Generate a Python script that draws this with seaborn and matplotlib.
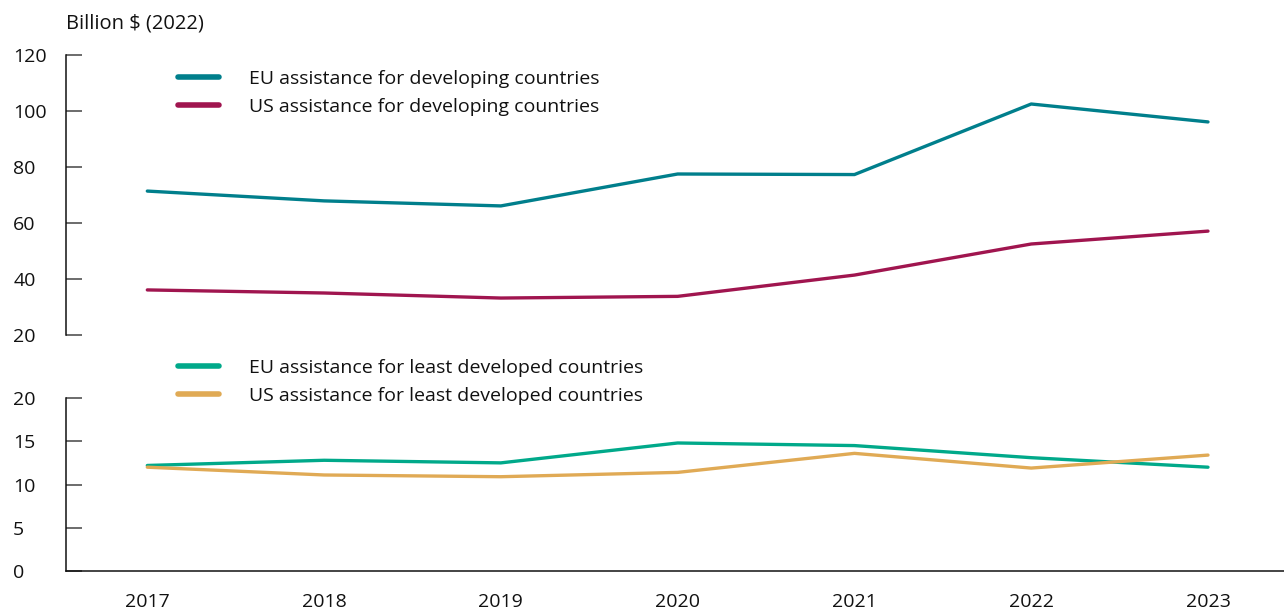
import matplotlib
matplotlib.use("Agg")
import matplotlib.pyplot as plt
import seaborn as sns
import pandas as pd

years = [2017, 2018, 2019, 2020, 2021, 2022, 2023]
eu_dev = [71.4, 67.9, 66.1, 77.5, 77.3, 102.5, 96.1]
us_dev = [36.1, 35.0, 33.2, 33.8, 41.4, 52.5, 57.1]
eu_ldc = [12.2, 12.8, 12.5, 14.8, 14.5, 13.1, 12.0]
us_ldc = [12.0, 11.1, 10.9, 11.4, 13.6, 11.9, 13.4]

lab_eu_dev = "EU assistance for developing countries"
lab_us_dev = "US assistance for developing countries"
lab_eu_ldc = "EU assistance for least developed countries"
lab_us_ldc = "US assistance for least developed countries"
y_unit = "Billion $ (2022)"

colors = {lab_eu_dev: "#007F8C", lab_us_dev: "#A0154F",
          lab_eu_ldc: "#00A98A", lab_us_ldc: "#E0AA55"}

top_df = pd.DataFrame({"year": years * 2, "value": eu_dev + us_dev,
                       "series": [lab_eu_dev] * 7 + [lab_us_dev] * 7})
bot_df = pd.DataFrame({"year": years * 2, "value": eu_ldc + us_ldc,
                       "series": [lab_eu_ldc] * 7 + [lab_us_ldc] * 7})

sns.set_theme(style="white")
plt.rcParams["font.family"] = ["Open Sans", "DejaVu Sans"]

fig = plt.figure(figsize=(12.84, 6.09), dpi=100)
L = 66 / 1284
ax1 = fig.add_axes([L, 1 - 335 / 609, 1 - L, (335 - 55) / 609])
ax2 = fig.add_axes([L, 1 - 571 / 609, 1 - L, (571 - 398) / 609])

for ax, df in ((ax1, top_df), (ax2, bot_df)):
    sns.lineplot(data=df, x="year", y="value", hue="series", palette=colors,
                 ax=ax, linewidth=2.4, legend=True)
    ax.set_xlim(2016.54, 2023.43)
    ax.set_xlabel("")
    ax.set_ylabel("")
    for s in ("top", "right"):
        ax.spines[s].set_visible(False)
    ax.spines["left"].set_color("#111111")
    ax.spines["left"].set_linewidth(1.1)
    ax.tick_params(axis="y", left=True, direction="in", length=11.5, width=1.1,
                   color="#444444", labelsize=14, pad=38, labelcolor="#111111")
    for ln in ax.get_lines():
        ln.set_solid_capstyle("round")
    leg = ax.legend(loc="upper left", frameon=False, fontsize=14,
                    handlelength=2.1, handletextpad=1.55, labelspacing=0.52,
                    borderaxespad=0, borderpad=0)
    for h in leg.legend_handles:
        h.set_linewidth(4)
        h.set_solid_capstyle("round")
    for t in leg.get_texts():
        t.set_color("#111111")

ax1.set_ylim(20, 120)
ax1.set_yticks([20, 40, 60, 80, 100, 120])
ax1.spines["bottom"].set_visible(False)
ax1.set_xticks([])
leg1 = ax1.get_legend()
leg1.set_bbox_to_anchor((112 / 1218, 1 - 15 / 280), transform=ax1.transAxes)

ax2.set_ylim(0, 20)
ax2.set_yticks([0, 5, 10, 15, 20])
ax2.set_xticks(years)
ax2.set_xticklabels([str(y) for y in years])
ax2.spines["bottom"].set_color("#111111")
ax2.spines["bottom"].set_linewidth(1.1)
ax2.tick_params(axis="x", length=0, labelsize=14, pad=16, labelcolor="#111111")
leg2 = ax2.get_legend()
leg2.set_bbox_to_anchor((112 / 1218, 1 + 39 / 173), transform=ax2.transAxes)

for ax in (ax1, ax2):
    for lbl in ax.get_yticklabels():
        lbl.set_horizontalalignment("left")

fig.text(L, 1 - 24 / 609, y_unit, fontsize=14.5, va="center", ha="left",
         color="#111111")

fig.savefig("out.png", dpi=100)
